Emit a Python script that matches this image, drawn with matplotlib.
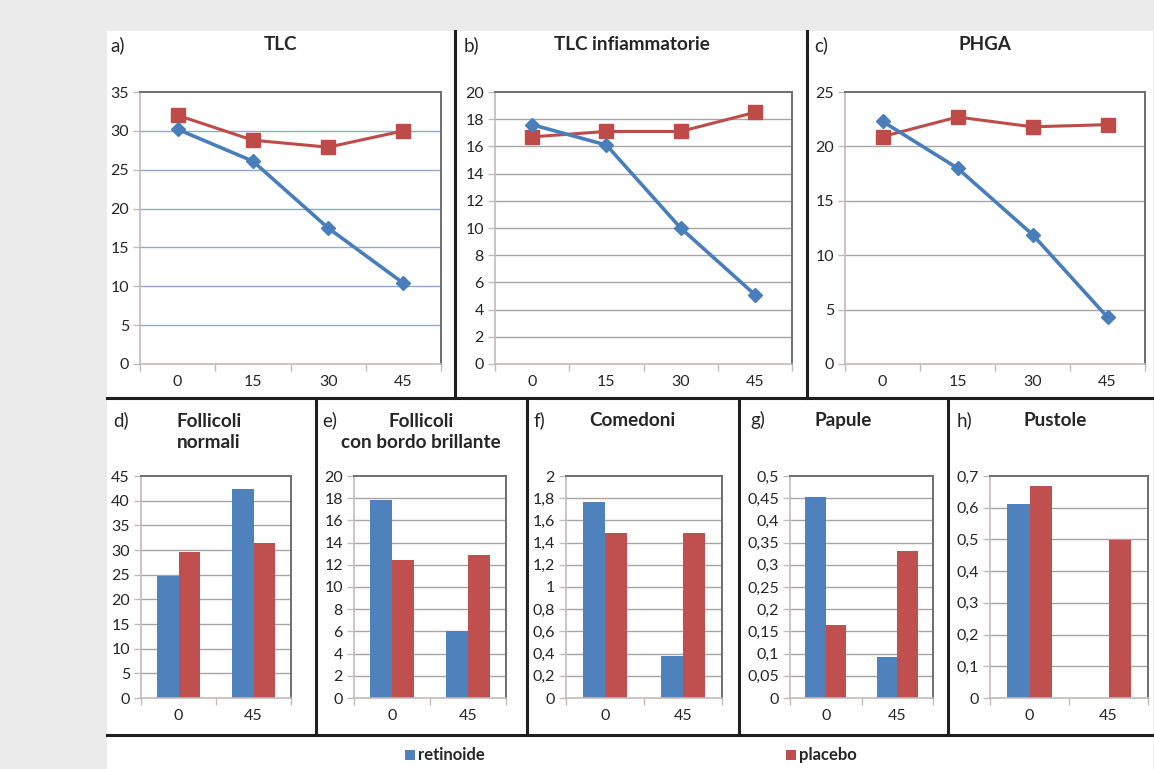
import numpy as np
import matplotlib
matplotlib.use("Agg")
import matplotlib.pyplot as plt
from matplotlib.patches import Rectangle
from matplotlib.lines import Line2D
from matplotlib.ticker import FuncFormatter

# data
series_names = ['retinoide', 'placebo']
days_line = ['0', '15', '30', '45']
days_bar = ['0', '45']

tlc_retinoide = [30.2, 26.1, 17.5, 10.4]
tlc_placebo = [32.0, 28.8, 27.9, 30.0]
tlc_inf_retinoide = [17.6, 16.1, 10.0, 5.1]
tlc_inf_placebo = [16.7, 17.1, 17.1, 18.5]
phga_retinoide = [22.3, 18.0, 11.9, 4.3]
phga_placebo = [20.9, 22.7, 21.8, 22.0]

foll_norm_retinoide = [24.7, 42.4]
foll_norm_placebo = [29.6, 31.4]
foll_bordo_retinoide = [17.8, 6.0]
foll_bordo_placebo = [12.4, 12.9]
comedoni_retinoide = [1.77, 0.38]
comedoni_placebo = [1.49, 1.49]
papule_retinoide = [0.453, 0.092]
papule_placebo = [0.165, 0.332]
pustole_retinoide = [0.613, 0.0]
pustole_placebo = [0.667, 0.499]

BLUE_LINE = '#4a7ebb'
RED_LINE = '#be4b48'
BLUE_BAR = '#4f81bd'
RED_BAR = '#c0504d'
FRAME = '#6e6e6e'
AXISLINE = '#c4b9b9'
GRID_GRAY = '#a8a4a4'
GRID_BLUE = '#8fa9d6'
TEXT = '#262626'

plt.rcParams['font.family'] = ['Lato', 'DejaVu Sans']

W, H = 1154, 769
fig = plt.figure(figsize=(W / 100, H / 100), dpi=100, facecolor='#ebebeb')


def fx(x):
    return x / W


def fy(y):
    return 1 - y / H


def px_axes(x0, y0, x1, y1):
    return fig.add_axes([fx(x0), fy(y1), (x1 - x0) / W, (y1 - y0) / H])


def comma_fmt(v, pos):
    s = f"{v:.3f}".rstrip('0').rstrip('.')
    return s.replace('.', ',')


def style_axes(ax, ymax, step, ncat, grid_color):
    ax.set_xlim(-0.5, ncat - 0.5)
    ax.set_ylim(0, ymax)
    ticks = np.round(np.arange(0, ymax + step / 2, step), 4)
    ax.set_yticks(ticks)
    ax.yaxis.set_major_formatter(FuncFormatter(comma_fmt))
    ax.set_xticks(np.arange(-0.5, ncat, 1.0))
    ax.set_xticklabels([])
    ax.tick_params(axis='x', which='major', length=5, color=AXISLINE, width=1)
    ax.tick_params(axis='y', length=5, color=AXISLINE, width=1, labelsize=11.5,
                   labelcolor=TEXT, pad=3)
    for y in ticks[1:-1]:
        ax.axhline(y, color=grid_color, lw=1.0, zorder=0)
    ax.spines['top'].set_color(FRAME)
    ax.spines['right'].set_color(FRAME)
    ax.spines['top'].set_linewidth(1.4)
    ax.spines['right'].set_linewidth(1.4)
    ax.spines['left'].set_color(AXISLINE)
    ax.spines['bottom'].set_color(AXISLINE)
    ax.spines['left'].set_linewidth(1.2)
    ax.spines['bottom'].set_linewidth(1.2)
    ax.set_facecolor('white')


def category_labels(ax, labels):
    for i, lab in enumerate(labels):
        ax.annotate(lab, xy=(i, 0), xycoords=('data', 'axes fraction'),
                    xytext=(0, -18), textcoords='offset pixels',
                    ha='center', va='center', fontsize=11.5, color=TEXT)


# white panel area
fig.patches.append(Rectangle((fx(107), 0), fx(1153) - fx(107), fy(31),
                             transform=fig.transFigure, facecolor='white',
                             edgecolor='none', zorder=-10))

# line panels (top row)
line_panels = [
    ((140, 92, 441, 364), 35, 5, tlc_retinoide, tlc_placebo, GRID_BLUE),
    ((495, 92, 792, 364), 20, 2, tlc_inf_retinoide, tlc_inf_placebo, GRID_GRAY),
    ((845, 92, 1145, 364), 25, 5, phga_retinoide, phga_placebo, GRID_GRAY),
]
for box, ymax, step, ret, pla, gcol in line_panels:
    ax = px_axes(*box)
    style_axes(ax, ymax, step, len(days_line), gcol)
    xs = np.arange(len(days_line))
    ax.plot(xs, pla, color=RED_LINE, lw=2.2, marker='s', markersize=9.5,
            markeredgecolor=RED_LINE, zorder=3, clip_on=False)
    ax.plot(xs, ret, color=BLUE_LINE, lw=2.6, marker='D', markersize=7,
            markeredgecolor=BLUE_LINE, zorder=4, clip_on=False)
    category_labels(ax, days_line)

# bar panels (bottom row)
bar_panels = [
    ((141, 476, 291, 698), 45, 5, foll_norm_retinoide, foll_norm_placebo),
    ((354, 476, 506, 698), 20, 2, foll_bordo_retinoide, foll_bordo_placebo),
    ((566, 476, 722, 698), 2, 0.2, comedoni_retinoide, comedoni_placebo),
    ((790, 476, 933, 698), 0.5, 0.05, papule_retinoide, papule_placebo),
    ((990, 476, 1148, 698), 0.7, 0.1, pustole_retinoide, pustole_placebo),
]
bar_w = 1 / 3.5
for box, ymax, step, ret, pla in bar_panels:
    ax = px_axes(*box)
    style_axes(ax, ymax, step, len(days_bar), GRID_GRAY)
    xs = np.arange(len(days_bar))
    ax.bar(xs - bar_w / 2, ret, width=bar_w, color=BLUE_BAR, zorder=2)
    ax.bar(xs + bar_w / 2, pla, width=bar_w, color=RED_BAR, zorder=2)
    category_labels(ax, days_bar)

# panel letters and titles
titles = [
    ('a)', 110, 45, 'TLC', 280, 45),
    ('b)', 464, 45, 'TLC infiammatorie', 632, 45),
    ('c)', 814, 45, 'PHGA', 985, 45),
    ('d)', 113, 420, 'Follicoli\nnormali', 209, 432),
    ('e)', 322, 420, 'Follicoli\ncon bordo brillante', 421, 432),
    ('f)', 534, 420, 'Comedoni', 632, 420),
    ('g)', 750, 420, 'Papule', 843, 420),
    ('h)', 957, 420, 'Pustole', 1055, 420),
]
for letter, lx, ly, title, tx, ty in titles:
    fig.text(fx(lx), fy(ly), letter, ha='left', va='center', fontsize=13.5,
             color=TEXT)
    fig.text(fx(tx), fy(ty), title, ha='center', va='center', fontsize=13.6,
             fontweight='bold', color=TEXT, linespacing=1.3)

# dividing lines
div = dict(color='#1e1e1e', lw=2.2, transform=fig.transFigure)
fig.lines.append(Line2D([fx(107), fx(1153)], [fy(398), fy(398)], **div))
fig.lines.append(Line2D([fx(107), fx(1153)], [fy(735), fy(735)], **div))
for x in (455, 807):
    fig.lines.append(Line2D([fx(x), fx(x)], [fy(31), fy(398)], **div))
for x in (316, 527, 739, 948):
    fig.lines.append(Line2D([fx(x), fx(x)], [fy(398), fy(735)], **div))

# legend
for name, col, sx in zip(series_names, [BLUE_BAR, RED_BAR], [405, 786]):
    fig.patches.append(Rectangle((fx(sx), fy(760)), fx(10), 10 / H,
                                 transform=fig.transFigure, facecolor=col,
                                 edgecolor='none'))
    fig.text(fx(sx + 13), fy(755), name, ha='left', va='center', fontsize=12,
             fontweight='bold', color=TEXT)

fig.savefig('out.png', dpi=100, facecolor=fig.get_facecolor())
